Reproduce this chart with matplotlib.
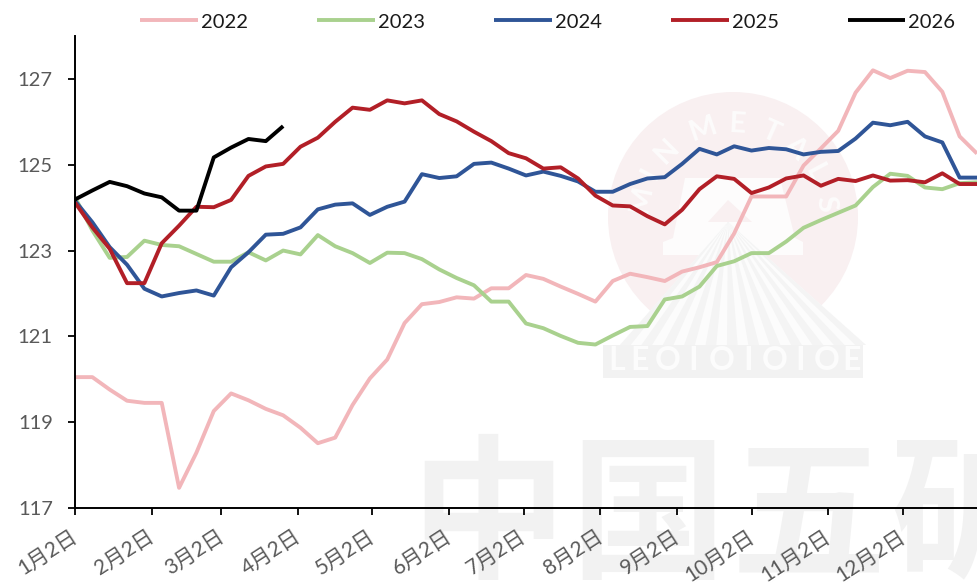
#!/usr/bin/env python
# -*- coding: utf-8 -*-
import numpy as np
import matplotlib
matplotlib.use("Agg")
import matplotlib.pyplot as plt
from matplotlib.patches import Circle, Polygon, Rectangle
from matplotlib.transforms import ScaledTranslation

plt.rcParams['font.family'] = ['Lato', 'Noto Sans CJK SC', 'DejaVu Sans']

y2022 = [120.05, 120.05, 119.76, 119.50, 119.45, 119.45, 117.47, 118.29, 119.26, 119.67,
         119.51, 119.31, 119.16, 118.87, 118.51, 118.64, 119.40, 120.02, 120.46, 121.31,
         121.75, 121.80, 121.91, 121.88, 122.12, 122.12, 122.43, 122.34, 122.16, 121.99,
         121.81, 122.29, 122.46, 122.38, 122.29, 122.51, 122.61, 122.73, 123.40, 124.26,
         124.26, 124.26, 124.98, 125.38, 125.79, 126.68, 127.20, 127.02, 127.19, 127.16,
         126.70, 125.66, 125.26]
y2023 = [124.24, 123.47, 122.83, 122.85, 123.23, 123.13, 123.10, 122.92, 122.74, 122.74,
         122.96, 122.77, 123.00, 122.91, 123.36, 123.10, 122.94, 122.71, 122.95, 122.94,
         122.80, 122.56, 122.36, 122.19, 121.81, 121.81, 121.30, 121.19, 121.01, 120.85,
         120.81, 121.02, 121.22, 121.24, 121.86, 121.93, 122.16, 122.64, 122.75, 122.94,
         122.94, 123.21, 123.53, 123.71, 123.88, 124.05, 124.48, 124.79, 124.74, 124.47,
         124.43, 124.57, 124.59]
y2024 = [124.16, 123.66, 123.08, 122.67, 122.11, 121.93, 122.01, 122.07, 121.95, 122.61,
         122.96, 123.37, 123.39, 123.54, 123.96, 124.07, 124.10, 123.83, 124.02, 124.14,
         124.78, 124.69, 124.73, 125.02, 125.05, 124.91, 124.75, 124.84, 124.74, 124.61,
         124.37, 124.37, 124.55, 124.68, 124.71, 125.02, 125.37, 125.24, 125.43, 125.33,
         125.39, 125.36, 125.24, 125.30, 125.32, 125.61, 125.98, 125.92, 126.00, 125.66,
         125.52, 124.70, 124.70]
y2025 = [124.12, 123.54, 123.04, 122.24, 122.24, 123.17, 123.58, 124.02, 124.01, 124.18,
         124.74, 124.96, 125.02, 125.42, 125.63, 126.00, 126.33, 126.28, 126.50, 126.43,
         126.50, 126.18, 126.01, 125.77, 125.55, 125.27, 125.15, 124.91, 124.94, 124.68,
         124.28, 124.05, 124.03, 123.80, 123.61, 123.95, 124.43, 124.73, 124.67, 124.34,
         124.47, 124.68, 124.75, 124.51, 124.67, 124.62, 124.75, 124.63, 124.64, 124.59,
         124.80, 124.55, 124.55]
y2026 = [124.19, 124.40, 124.60, 124.50, 124.33, 124.24, 123.93, 123.93, 125.17, 125.40,
         125.60, 125.55, 125.90]

tick_days = [0, 31, 59, 90, 120, 151, 181, 212, 243, 273, 304, 334]
tick_labels = ['1月2日', '2月2日', '3月2日', '4月2日', '5月2日', '6月2日',
               '7月2日', '8月2日', '9月2日', '10月2日', '11月2日', '12月2日']
y_ticks = [117, 119, 121, 123, 125, 127]

series = [('2022', y2022, '#F2B6BA'),
          ('2023', y2023, '#A9D18E'),
          ('2024', y2024, '#2F5597'),
          ('2025', y2025, '#B21F27'),
          ('2026', y2026, '#000000')]

fig = plt.figure(figsize=(9.77, 5.86), dpi=100)

# watermark, drawn in pixel coordinates behind the chart
bg = fig.add_axes([0, 0, 1, 1])
bg.set_xlim(0, 977)
bg.set_ylim(586, 0)
bg.axis('off')
bg.add_patch(Circle((733, 217), 125, fc='#F9F0F1', ec='none'))
bg.add_patch(Polygon([[685, 178], [780, 178], [795, 238], [803, 242], [803, 255],
                      [663, 255], [663, 242], [673, 238]], fc='#FDFCFC', ec='none'))
bg.add_patch(Polygon([[708, 222], [728, 200], [752, 222]], fc='#F9F0F1', ec='none'))
edges = np.linspace(620, 866, 24)
bg.add_patch(Polygon([[728, 222], [866, 345], [620, 345]], fc='#FCFCFC', ec='none'))
for i in range(0, len(edges) - 1, 2):
    bg.add_patch(Polygon([[728, 222], [edges[i], 345], [edges[i + 1], 345]],
                         fc='#F4F4F4', ec='none'))
bg.add_patch(Rectangle((603, 345), 260, 33, fc='#F2F2F2', ec='none'))
for ch, xc in zip('LEOIOIOIOE', [617, 640, 668, 693, 722, 748, 775, 800, 827, 852]):
    bg.text(xc, 361, ch, color='#FCFCFC', fontsize=23, fontweight='bold',
            ha='center', va='center')
for ch, ang in zip('MINMETALS', [-79, -62, -45, -19, 3, 24, 42, 62, 82]):
    a = np.deg2rad(ang)
    bg.text(733 + 93 * np.sin(a), 217 - 93 * np.cos(a), ch, color='#FDFCFC', fontsize=21,
            fontweight='bold', rotation=-ang, ha='center', va='center')
for ch, xc in zip('中国五矿', [488, 648, 808, 968]):
    bg.text(xc, 520, ch, color='#F2F2F2', fontsize=112, fontweight='bold',
            family=['Noto Sans CJK SC'], ha='center', va='center', clip_on=True)

ax = fig.add_axes([75 / 977, 1 - 508 / 586, 902 / 977, 472 / 586])
ax.set_zorder(2)
ax.patch.set_alpha(0)

for name, vals, col in series:
    days = np.arange(len(vals)) * 7
    ax.plot(days, vals, color=col, lw=2.8, label=name, solid_joinstyle='round',
            solid_capstyle='butt')

ax.set_xlim(0, 364)
ax.set_ylim(117, 128)
ax.set_yticks(y_ticks)
ax.set_xticks(tick_days)
ax.set_xticklabels(tick_labels, rotation=33, ha='right', va='top', rotation_mode='anchor',
                   color='#595959', fontsize=15)
ax.tick_params(axis='y', length=5, width=1.3, labelsize=14.5, labelcolor='#595959', pad=11)
ax.tick_params(axis='x', length=5, width=1.3, pad=8)
# labels end a little left of their ticks
shift = ScaledTranslation(-5 / 100, 0, fig.dpi_scale_trans)
for lab in ax.get_xticklabels():
    lab.set_transform(lab.get_transform() + shift)
for side in ['top', 'right']:
    ax.spines[side].set_visible(False)
for side in ['left', 'bottom']:
    ax.spines[side].set_linewidth(1.4)

fig.legend(loc='center', bbox_to_anchor=(548 / 977, 1 - 22 / 586), ncol=5, frameon=False,
           fontsize=14.5, handlelength=2.85, handletextpad=0.15, columnspacing=3.45,
           labelcolor='#1A1A1A')

fig.savefig('out.png', dpi=100)
